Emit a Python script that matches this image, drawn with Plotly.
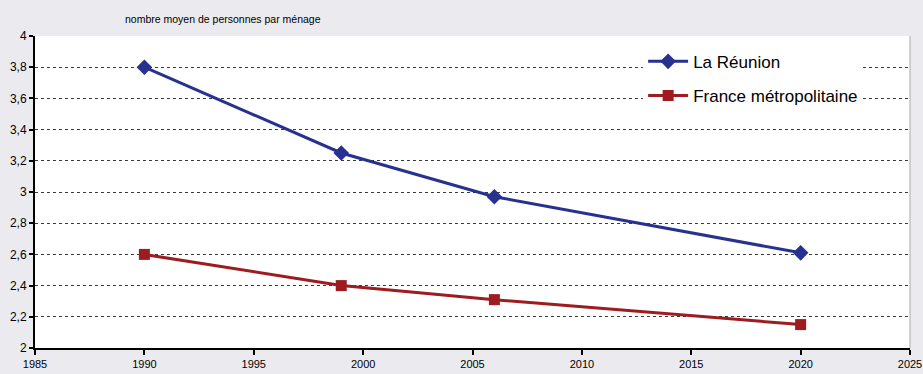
import plotly.graph_objects as go

# Household size (average number of persons per household)
years = [1990, 1999, 2006, 2020]
reunion = [3.8, 3.25, 2.97, 2.61]
france = [2.6, 2.4, 2.31, 2.15]

x_ticks = [1985, 1990, 1995, 2000, 2005, 2010, 2015, 2020, 2025]
y_ticks = [2, 2.2, 2.4, 2.6, 2.8, 3, 3.2, 3.4, 3.6, 3.8, 4]
y_labels = ["2", "2,2", "2,4", "2,6", "2,8", "3", "3,2", "3,4", "3,6", "3,8", "4"]

BLUE = "#27318f"
RED = "#9e1b1f"
FONT = "Liberation Sans Narrow, Arial Narrow, Liberation Sans, sans-serif"

fig = go.Figure()
fig.add_trace(go.Scatter(
    x=years, y=reunion, name="La Réunion", legendgroup="a",
    mode="lines+markers",
    line=dict(color=BLUE, width=3),
    marker=dict(symbol="diamond", size=12, color=BLUE),
))
fig.add_trace(go.Scatter(
    x=years, y=france, name="France métropolitaine", legendgroup="b",
    mode="lines+markers",
    line=dict(color=RED, width=3),
    marker=dict(symbol="square", size=11, color=RED),
))

fig.update_layout(
    width=923, height=374,
    margin=dict(l=35, r=13, t=36, b=26, autoexpand=False),
    paper_bgcolor="#ebebef",
    plot_bgcolor="white",
    font=dict(family=FONT, color="black"),
    showlegend=True,
    legend=dict(
        x=0.695, y=0.975, xanchor="left", yanchor="top",
        bgcolor="white", borderwidth=0,
        font=dict(family=FONT, size=17, color="black"),
        tracegroupgap=9, itemwidth=40,
    ),
    xaxis=dict(
        range=[1985, 2025], tickvals=x_ticks, automargin=False,
        showgrid=False, zeroline=False,
        showline=True, linecolor="black", linewidth=2,
        ticks="outside", ticklen=5, tickcolor="black", tickwidth=2,
        tickfont=dict(size=11, family=FONT),
    ),
    yaxis=dict(
        range=[2, 4], tickvals=y_ticks, ticktext=y_labels, automargin=False,
        showgrid=True, gridcolor="#3a3a3a", griddash="dot", gridwidth=1,
        zeroline=False,
        showline=True, linecolor="black", linewidth=2,
        ticks="outside", ticklen=4, tickcolor="black", tickwidth=2,
        tickfont=dict(size=12, family=FONT),
    ),
    annotations=[dict(
        text="nombre moyen de personnes par ménage",
        xref="paper", yref="paper", x=0.101, y=1.0, yshift=17,
        xanchor="left", yanchor="middle", showarrow=False,
        font=dict(family=FONT, size=10.5, color="black"),
    )],
    shapes=[dict(
        type="line", xref="paper", yref="paper",
        x0=1, x1=1, y0=0, y1=1,
        line=dict(color="#aaaaaa", width=1),
    )],
)

fig.write_html("out.html")
